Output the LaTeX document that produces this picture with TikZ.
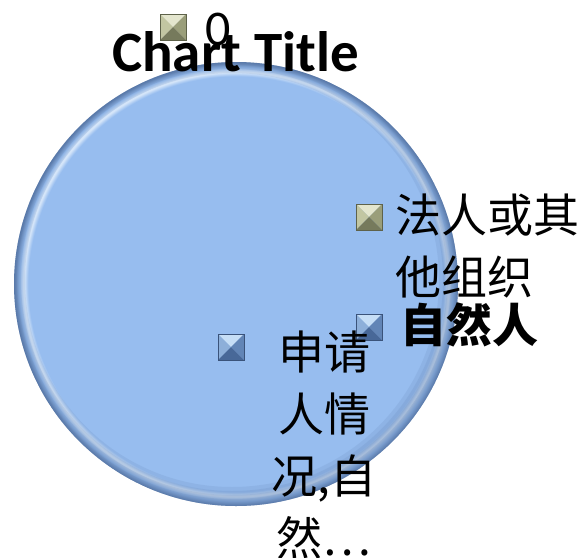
\documentclass[tikz,border=0pt]{standalone}
\usepackage{fontspec}
\setmainfont{Carlito}
\newfontfamily\cjk{Noto Sans CJK SC}
\definecolor{pieblue}{HTML}{97BDEF}
\definecolor{rimlight}{HTML}{DCEAFA}
\definecolor{rimdark}{HTML}{5A7AAA}
\definecolor{gTop}{HTML}{E4E6CE}
\definecolor{gLeft}{HTML}{C2C6A2}
\definecolor{gRight}{HTML}{9A9E7A}
\definecolor{gBot}{HTML}{767A5C}
\definecolor{bTop}{HTML}{C6DEF6}
\definecolor{bLeft}{HTML}{8DAFD9}
\definecolor{bRight}{HTML}{6285B6}
\definecolor{bBot}{HTML}{486898}
\pgfdeclareradialshading{pierim}{\pgfpoint{0bp}{0bp}}{color(0bp)=(pieblue); color(23.4bp)=(pieblue); color(23.9bp)=(rimlight); color(24.4bp)=(pieblue); color(24.85bp)=(rimdark!80!pieblue); color(25bp)=(rimdark); color(50bp)=(rimdark)}
\tikzset{
  x=1pt, y=-1pt,
  legtext/.style={inner sep=0pt, font=\cjk\fontsize{46}{62}\selectfont},
  pics/bevmark/.style n args={4}{code={
    \fill[#1] (-13,-13) -- (13,-13) -- (0,0) -- cycle;
    \fill[#2] (-13,-13) -- (-13,13) -- (0,0) -- cycle;
    \fill[#3] (13,-13) -- (13,13) -- (0,0) -- cycle;
    \fill[#4] (-13,13) -- (13,13) -- (0,0) -- cycle;
    \draw[#4!80!black, line width=0.6pt] (-13,-13) rectangle (13,13);
  }}
}
\begin{document}
\begin{tikzpicture}
\useasboundingbox (0,0) rectangle (585,557);
\coordinate (c) at (236,284);
% pie
\shade[shading=pierim] (c) circle[radius=222];
\begin{scope}
  \clip (c) circle[radius=222];
  \foreach \r in {219,215,211,207}
    \fill[rimdark, opacity=0.14, even odd rule] (c) circle[radius=224] ([shift={(-4,-4)}]c) circle[radius=\r];
\end{scope}
% legend markers
\pic at (173,27) {bevmark={gTop}{gLeft}{gRight}{gBot}};
\pic at (369,217) {bevmark={gTop}{gLeft}{gRight}{gBot}};
\pic at (369,327) {bevmark={bTop}{bLeft}{bRight}{bBot}};
\pic at (231,347) {bevmark={bTop}{bLeft}{bRight}{bBot}};
% legend texts
\node[inner sep=0pt, anchor=base west, font=\fontsize{50}{60}\selectfont] (zero) at (205,45) {0};
\node[legtext, anchor=base west, align=left] (faren) at (395,294) {法人或其\\他组织};
\node[legtext, anchor=base west, font=\cjk\bfseries\fontsize{46}{62}\selectfont] (ziran) at (400,342) {自然人};
\node[legtext, anchor=base, align=center] (shen) at (324,555) {申请\\人情\\况,自\\然…};
% title
\node[inner sep=0pt, anchor=base west, font=\bfseries\fontsize{57}{66}\selectfont] (title) at (112,71) {Chart Title};
\end{tikzpicture}
\end{document}
